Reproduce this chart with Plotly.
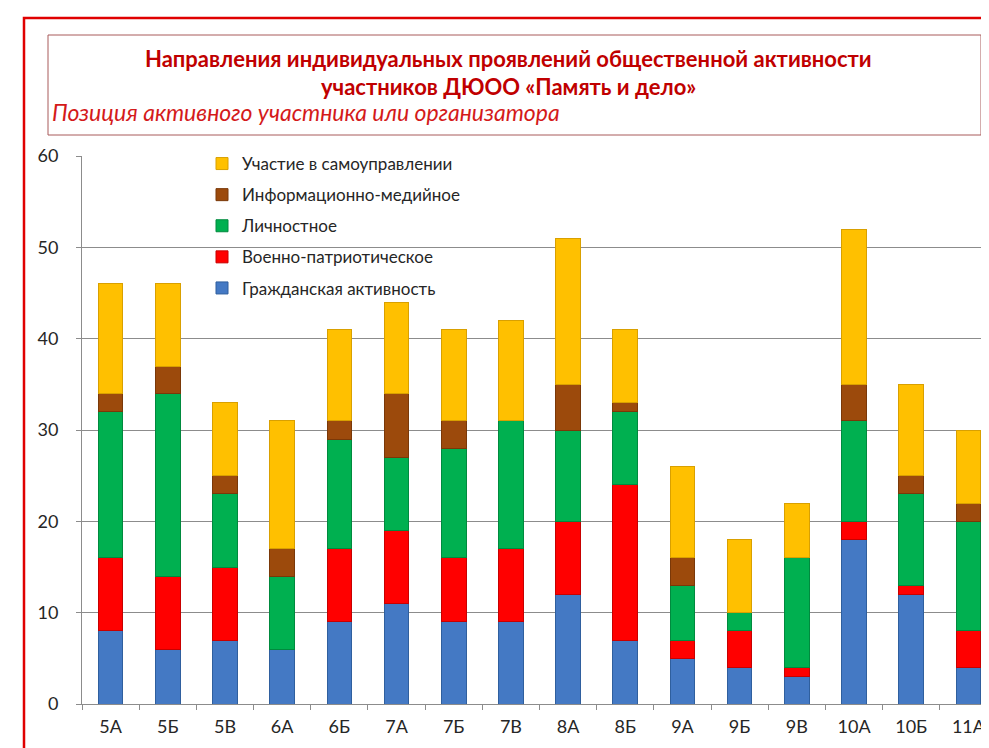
from plotly import graph_objects as go

classes = ["5А", "5Б", "5В", "6А", "6Б", "7А", "7Б", "7В", "8А", "8Б", "9А", "9Б", "9В", "10А", "10Б", "11А"]

grazhdanskaya = [8, 6, 7, 6, 9, 11, 9, 9, 12, 7, 5, 4, 3, 18, 12, 4]
voenno = [8, 8, 8, 0, 8, 8, 7, 8, 8, 17, 2, 4, 1, 2, 1, 4]
lichnostnoe = [16, 20, 8, 8, 12, 8, 12, 14, 10, 8, 6, 2, 12, 11, 10, 12]
informacionnoe = [2, 3, 2, 3, 2, 7, 3, 0, 5, 1, 3, 0, 0, 4, 2, 2]
samoupravlenie = [12, 9, 8, 14, 10, 10, 10, 11, 16, 8, 10, 8, 6, 17, 10, 8]

series = [
    ("Гражданская активность", grazhdanskaya, "#4479C4", "#2F5F9E"),
    ("Военно-патриотическое", voenno, "#FF0000", "#C80000"),
    ("Личностное", lichnostnoe, "#00B050", "#008A3E"),
    ("Информационно-медийное", informacionnoe, "#9C4A0C", "#7A3808"),
    ("Участие в самоуправлении", samoupravlenie, "#FFC000", "#D9A000"),
]

W, H = 989, 748
L, R, T, B = 74, 989, 148, 696

def px_x(p):
    return (p - L) / (R - L)

def px_y(p):
    return (B - p) / (B - T)

fig = go.Figure()
for i, (name, vals, col, edge) in enumerate(series):
    fig.add_trace(go.Bar(name=name, x=classes, y=vals, legendgroup=str(i),
                         legendrank=len(series) - i,
                         marker=dict(color=col, line=dict(color=edge, width=1))))

font = "Lato, Carlito, Calibri, sans-serif"

fig.update_layout(
    width=W, height=H,
    margin=dict(l=L, r=W - R, t=T, b=H - B),
    barmode="stack", bargap=0.57,
    plot_bgcolor="white", paper_bgcolor="white",
    font=dict(family=font, color="#262626"),
    legend=dict(x=px_x(194), y=px_y(138), xanchor="left", yanchor="top",
                traceorder="grouped", tracegroupgap=6,
                bgcolor="rgba(0,0,0,0)", font=dict(size=17, color="#262626"),
                itemwidth=30),
    shapes=[
        dict(type="rect", xref="paper", yref="paper",
             x0=px_x(16), x1=px_x(1000), y0=px_y(10), y1=px_y(760),
             line=dict(color="#E00000", width=2.5)),
        dict(type="rect", xref="paper", yref="paper",
             x0=px_x(40), x1=px_x(973), y0=px_y(27), y1=px_y(127),
             line=dict(color="#A85A5A", width=1)),
    ],
    annotations=[
        dict(text="<b>Направления индивидуальных проявлений общественной активности</b>",
             xref="paper", yref="paper", x=px_x(500), y=px_y(50),
             xanchor="center", yanchor="middle",
             showarrow=False, font=dict(size=22, color="#C00000")),
        dict(text="<b>участников ДЮОО «Память и дело»</b>",
             xref="paper", yref="paper", x=px_x(500), y=px_y(78),
             xanchor="center", yanchor="middle",
             showarrow=False, font=dict(size=22, color="#C00000")),
        dict(text="<i>Позиция активного участника или организатора</i>",
             xref="paper", yref="paper", x=px_x(42), y=px_y(104),
             xanchor="left", yanchor="middle",
             showarrow=False, font=dict(size=23, color="#D41A1A")),
    ],
)

fig.update_xaxes(showline=True, linecolor="#8C8C8C", linewidth=1,
                 ticks="outside", tickson="boundaries", ticklen=5, tickcolor="#8C8C8C",
                 tickfont=dict(size=18), ticklabelstandoff=6)
fig.update_yaxes(range=[0, 60], dtick=10, showgrid=True, gridcolor="#8C8C8C", gridwidth=1,
                 showline=True, linecolor="#8C8C8C", linewidth=1,
                 ticks="outside", ticklen=5, tickcolor="#8C8C8C",
                 tickfont=dict(size=18), ticklabelstandoff=14, zeroline=False)

fig.write_html("out.html")
